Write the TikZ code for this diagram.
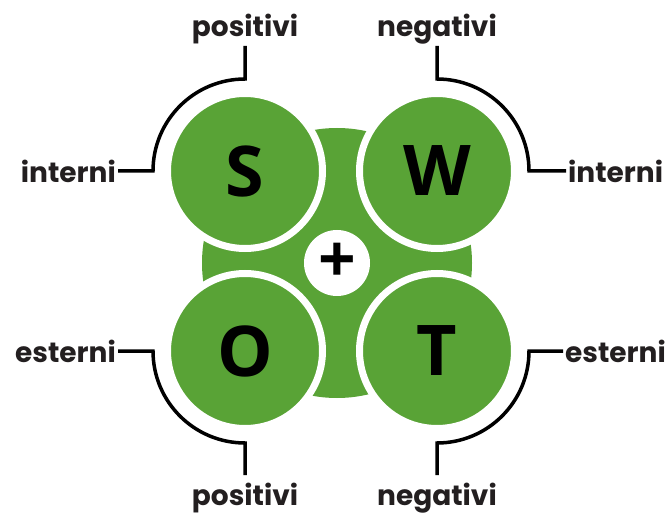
\documentclass[tikz,border=0pt]{standalone}
\usepackage{fontspec}
\setmainfont{Poppins}
\newfontfamily\letterfont{Open Sans}
\usetikzlibrary{positioning}
\definecolor{swotgreen}{HTML}{59A336}
\definecolor{labelink}{HTML}{231F20}

\begin{document}
\begin{tikzpicture}[x=1pt, y=1pt,
    petal/.style={circle, fill=swotgreen, draw=white, line width=7pt, minimum size=155pt,
      font=\letterfont\bfseries\fontsize{70}{70}\selectfont, text=black},
    hub/.style={circle, fill=white, minimum size=66pt, inner sep=0pt,
      font=\letterfont\bfseries\fontsize{66}{66}\selectfont},
    lbl/.style={font=\bfseries\fontsize{28}{28}\selectfont, text=labelink, inner sep=2pt},
    wire/.style={line width=3.5pt, black}]
  \useasboundingbox (0,0) rectangle (670,515);
  \fill[swotgreen] (337,252) circle[radius=135];
  \node[petal] (S) at (245,344) {S};
  \node[petal] (W) at (437,344) {W};
  \node[petal] (O) at (245,164) {O};
  \node[petal] (T) at (437,164) {T};
  \node[hub] (plus) at (337,252) {+};

  \node[lbl, anchor=south] (pS) at (245,469) {positivi};
  \node[lbl, anchor=south] (nW) at (437,469) {negativi};
  \node[lbl, anchor=north, inner ysep=8pt] (pO) at (245,40) {positivi};
  \node[lbl, anchor=north, inner ysep=8pt] (nT) at (437,40) {negativi};
  \node[lbl, anchor=east] (iS) at (118,344) {interni};
  \node[lbl, anchor=west] (iW) at (566,344) {interni};
  \node[lbl, anchor=east] (eO) at (118,164) {esterni};
  \node[lbl, anchor=west] (eT) at (563,164) {esterni};

  \draw[wire] (iS.east) -- ([xshift=-92pt]S.center) arc[start angle=180, end angle=90, radius=92] -- (pS.south);
  \draw[wire] (iW.west) -- ([xshift=92pt]W.center) arc[start angle=0, end angle=90, radius=92] -- (nW.south);
  \draw[wire] (eO.east) -- ([xshift=-92pt]O.center) arc[start angle=180, end angle=270, radius=92] -- (pO.north);
  \draw[wire] (eT.west) -- ([xshift=92pt]T.center) arc[start angle=0, end angle=-90, radius=92] -- (nT.north);
\end{tikzpicture}
\end{document}
